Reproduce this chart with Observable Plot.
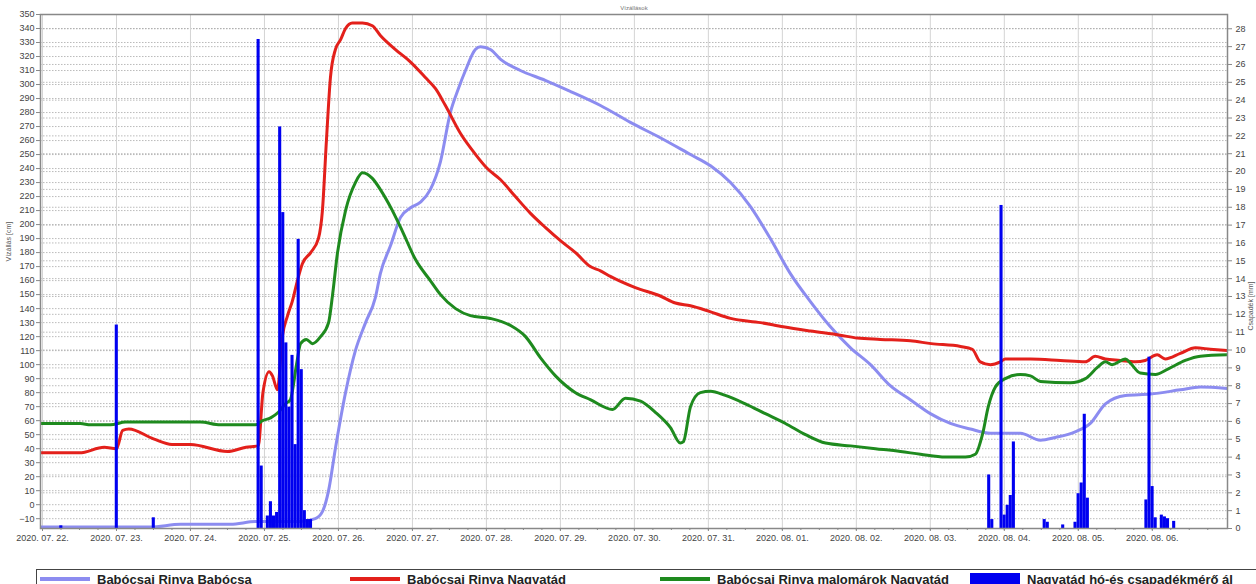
<!DOCTYPE html>
<html><head><meta charset="utf-8">
<script src="https://cdn.jsdelivr.net/npm/d3@7"></script>
<script src="https://cdn.jsdelivr.net/npm/@observablehq/plot@0.6"></script>
<style>
body{margin:0;background:#fff;font-family:"Liberation Sans",Arial,sans-serif;overflow:hidden}
#legend{margin-left:36px;margin-top:9px;border:1px solid #444;height:26px;width:1300px;display:flex;align-items:flex-start;padding-top:1px;font-weight:bold;font-size:13px;color:#222;white-space:nowrap}
.item{width:310px;display:flex;align-items:center;flex:none;height:16px}
.sw{width:50px;height:4px;margin:0 7px 0 3px;flex:none}
.sq{height:13px}
</style></head><body><div id="chart"></div>
<div id="legend"></div>
<script>
// hours since 2020-07-22 00:00 and values
const babocsaHours = [-0.65,35,44.8,61,69.1,83.7,88.5,90.8,92.8,95,98.3,101.5,104.8,108,109.6,112.9,116.1,119.4,122.6,125.8,129.1,132.3,134.9,137.2,140.4,142.1,145.3,148.6,155,163.1,171.3,181,190.7,200.4,210.2,216.7,223.2,229.6,236.1,242.6,249.1,255.6,262.1,268.6,275,281.5,288,294.5,301,307.5,312.3,317.2,323.7,328.6,335,339.9,344.8,351.3,359.4,369.1,375.6,384.4];
const babocsaCm = [-16,-16,-14,-14,-12,-12,-10,-5,10,40,80,110,130,148,165,185,205,212,216,225,245,280,297,310,325,327,325,318,310,303,295,285,273,262,250,242,230,213,190,165,145,127,112,100,85,75,65,58,54,51,51,51,46,48,52,58,72,78,79,82,84,83];

const nagyatadHours = [-0.65,12,20,24,26,28,36,42,48,60,66,70,71.5,73.5,74.6,76.2,77.8,79.5,81,82.7,84.3,87,89.5,90.8,92.1,93.4,95,96.7,98.3,100.5,103.8,107,109.6,114.5,119.4,124.2,127.5,130.7,135.6,140.5,144.3,148.6,153.4,158.3,163.1,168.3,172.9,177.7,181,184.2,192.3,200.4,205.3,210.2,216.3,223.2,232.9,240.3,249.1,258.8,264.3,271.8,281.5,288.3,297.8,301.6,304.2,307.5,310.7,312.3,320.5,330.2,338.3,341.5,344.8,349.6,354.5,357.7,361.6,364.2,369.1,374,378.8,384.4];
const nagyatadCm = [37,37,41,40,53,54,47,43,43,38,41,42,80,95,92,82,120,135,145,160,172,180,190,210,260,305,325,332,340,344,344,342,335,325,316,305,297,285,265,250,240,232,220,208,198,188,180,170,167,163,155,149,144,142,138,133,130,127,124,121,119,118,117,115,113,111,102,100,102,104,104,103,102,106,104,103,102,103,107,104,108,112,111,110];

const malomarokHours = [-0.65,12.3,15.6,22,27,51.2,57.7,69.1,71.4,74,76.5,78.8,80.4,82.4,83.7,85.6,87.6,90.2,92.8,94.1,95.7,98.3,101.5,103.8,107,109.6,113.5,116.8,121,125.8,129.1,134,138.8,145.3,151.8,156.7,161.5,166.4,172.9,177.7,184.9,189.1,194,198.8,203.7,206.9,207.9,210.2,213.4,216.7,221.5,228,234.5,241,247.5,254,262.1,270.2,278.3,284.8,292.9,299.4,302.6,304.9,306.8,309.1,312.3,317.2,320.5,323.7,333.4,338.3,342.2,344.8,347,351.3,352.9,356.1,361,365.2,370.7,375.6,384.4];
const malomarokCm = [58,58,57,57,59,59,57,57,60,62,66,72,75,100,115,118,115,120,130,150,180,210,230,237,233,225,210,195,175,160,150,140,135,133,128,120,105,92,80,75,68,76,74,66,55,44,45,70,80,81,78,72,65,58,50,44,42,40,38,36,34,34,36,50,70,84,90,93,92,88,87,90,98,102,100,104,101,94,93,97,103,106,107];

const rainHours = [6,24,36,70,71,73,74,75,76,77,78,79,80,81,82,83,84,85,86,87,307,308,311,312,313,314,315,325,326,331,335,336,337,338,339,358,359,360,361,363,364,365,367];
const rainMm = [0.15,11.4,0.6,27.4,3.5,0.7,1.5,0.7,0.9,22.5,17.7,10.4,6.8,9.7,4.7,16.2,8.9,1.0,0.5,0.5,3.0,0.5,18.1,0.75,1.3,1.85,4.85,0.5,0.35,0.2,0.35,1.95,2.55,6.4,1.7,1.6,9.6,2.35,0.6,0.75,0.65,0.55,0.4];

const seriesNames = ["Babócsai Rinya Babócsa","Babócsai Rinya Nagyatád","Babócsai Rinya malomárok Nagyatád","Nagyatád hó-és csapadékmérő ál"];
const seriesColors = ["#8c8cf0","#e3201b","#1e8a1e","#0000f0"];
const leftTicks = d3.range(-10, 351, 10);
const rightTicks = d3.range(0, 29, 1);
const titleText = "Vízállások";
const leftLabel = "Vízállás [cm]";
const rightLabel = "Csapadék [mm]";

const t0 = Date.UTC(2020, 6, 22);
const T = h => new Date(t0 + h * 3600e3);
const yMin = -17, yMax = 350, pMax = 28.8;
const k = (yMax - yMin) / pMax;
const p2y = p => yMin + p * k;

const mk = (hours, vals, name) => hours.map((h, i) => ({t: T(h), v: vals[i], name}));
const lines = [
  mk(babocsaHours, babocsaCm, seriesNames[0]),
  mk(nagyatadHours, nagyatadCm, seriesNames[1]),
  mk(malomarokHours, malomarokCm, seriesNames[2])
];
const rain = rainHours.map((h, i) => ({t1: T(h - 0.4), t2: T(h + 0.6), y1: p2y(0), y2: p2y(rainMm[i])}));
const days = d3.utcDay.range(T(0), T(380));
const sixHours = d3.utcHour.every(6).range(T(0), T(384));

const grid = {stroke: "#aaa", strokeOpacity: 0.8, strokeDasharray: "1.5,1.5"};
const plot = Plot.plot({
  width: 1256, height: 560,
  marginLeft: 40, marginRight: 29, marginTop: 14, marginBottom: 32,
  style: {fontFamily: "'Liberation Sans', Arial, sans-serif", fontSize: "9px", color: "#444", background: "#fff"},
  x: {type: "utc", domain: [T(-0.65), T(384.4)]},
  y: {domain: [yMin, yMax]},
  marks: [
    Plot.gridY(leftTicks, grid),
    Plot.gridY(rightTicks.map(p2y), grid),
    Plot.gridX(days, {stroke: "#d4d4d4", strokeOpacity: 1}),
    ...lines.map((d, i) => Plot.line(d, {x: "t", y: "v", stroke: seriesColors[i], strokeWidth: 3, curve: "monotone-x", clip: true})),
    Plot.rect(rain, {x1: "t1", x2: "t2", y1: "y1", y2: "y2", fill: seriesColors[3], clip: true}),
    Plot.frame({stroke: "#888", strokeWidth: 1.5}),
    Plot.axisY(leftTicks, {anchor: "left", tickSize: 4, tickPadding: 2, label: null, fill: "#444", stroke: "#888"}),
    Plot.axisY(rightTicks.map(p2y), {anchor: "right", tickSize: 4, tickPadding: 4, label: null, tickFormat: d => String(Math.round((d - yMin) / k)), fill: "#444", stroke: "#888"}),
    Plot.axisX(days, {anchor: "bottom", tickSize: 3, tickPadding: 3, label: null, tickFormat: d3.utcFormat("%Y. %m. %d."), fill: "#444", stroke: "#888"}),
    Plot.axisX(sixHours, {anchor: "bottom", tickSize: 2, label: null, tickFormat: () => "", stroke: "#888"}),
    Plot.text([titleText], {frameAnchor: "top", dy: -9, fontSize: 6, fill: "#777"}),
    Plot.text([leftLabel], {frameAnchor: "left", dx: -32, dy: -10, rotate: -90, fontSize: 7, fill: "#555"}),
    Plot.text([rightLabel], {frameAnchor: "right", dx: 23, dy: 10, rotate: -90, fontSize: 7, fill: "#555"})
  ]
});
document.getElementById("chart").appendChild(plot);

const legend = document.getElementById("legend");
seriesNames.forEach((n, i) => {
  const it = document.createElement("div");
  it.className = "item";
  const sw = document.createElement("div");
  sw.className = "sw" + (i === 3 ? " sq" : "");
  sw.style.background = seriesColors[i];
  const tx = document.createElement("span");
  tx.textContent = n;
  it.appendChild(sw); it.appendChild(tx);
  legend.appendChild(it);
});
</script></body></html>
